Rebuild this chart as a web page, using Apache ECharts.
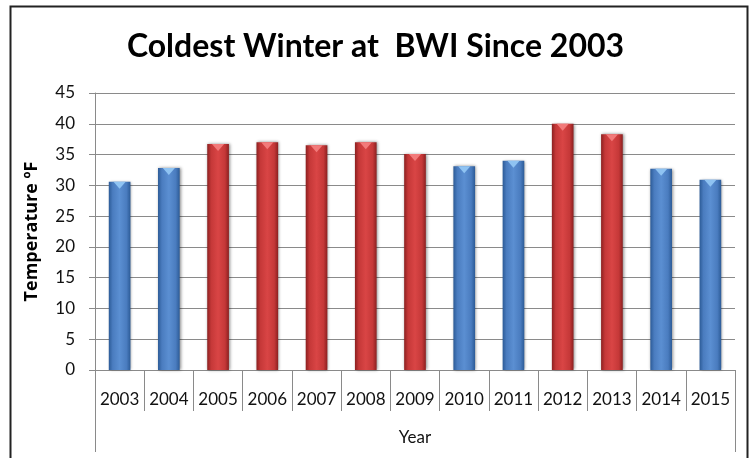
<!DOCTYPE html>
<html>
<head>
<meta charset="utf-8">
<script src="https://cdn.jsdelivr.net/npm/echarts@6/dist/echarts.min.js"></script>
<style>
  html, body { margin: 0; padding: 0; background: #fff; }
  #chart { width: 751px; height: 458px; }
</style>
</head>
<body>
<div id="chart"></div>
<script>
// x轴年份
const years = ['2003', '2004', '2005', '2006', '2007', '2008', '2009', '2010', '2011', '2012', '2013', '2014', '2015']
// 最低温度 (°F)
const temps = [30.6, 32.8, 36.7, 37.0, 36.5, 37.0, 35.1, 33.1, 34.0, 40.0, 38.3, 32.7, 30.9]
// 柱子颜色分组
const groups = ['cold', 'cold', 'warm', 'warm', 'warm', 'warm', 'warm', 'cold', 'cold', 'warm', 'warm', 'cold', 'cold']
const yTicks = [0, 5, 10, 15, 20, 25, 30, 35, 40, 45]

const font = 'Lato, "Open Sans", sans-serif'

function barFill(edge, mid, center) {
  return new echarts.graphic.LinearGradient(0, 0, 1, 0, [
    { offset: 0, color: edge },
    { offset: 0.18, color: mid },
    { offset: 0.5, color: center },
    { offset: 0.82, color: mid },
    { offset: 1, color: edge }
  ])
}
const fills = {
  cold: barFill('#2c5b97', '#4a7cbf', '#5b8fd2'),
  warm: barFill('#8c2020', '#c53838', '#d94545')
}
const caps = { cold: '#8fc3f2', warm: '#f27a7a' }

const chart = echarts.init(document.getElementById('chart'))
chart.setOption({
  animation: false,
  backgroundColor: '#fff',
  title: {
    text: 'Coldest Winter at  BWI Since 2003',
    left: 'center',
    top: 26,
    textStyle: { fontFamily: font, fontSize: 32, fontWeight: 'bold', color: '#000' }
  },
  graphic: [{
    type: 'rect',
    left: 8,
    top: 4,
    shape: { width: 737, height: 453 },
    style: { fill: 'none', stroke: '#222', lineWidth: 2 },
    silent: true
  }],
  grid: { left: 95, right: 16, top: 93, bottom: 88 },
  xAxis: [{
    type: 'category',
    data: years,
    axisLine: { lineStyle: { color: '#8a8a8a' } },
    axisTick: { show: true, interval: 0, alignWithLabel: false, length: 41, lineStyle: { color: '#8a8a8a' } },
    axisLabel: { interval: 0, margin: 21, fontFamily: font, fontSize: 17, color: '#111' }
  }, {
    type: 'category',
    position: 'bottom',
    offset: 41,
    data: ['Year'],
    axisLine: { show: false },
    axisTick: { show: true, alignWithLabel: false, length: 41, lineStyle: { color: '#8a8a8a' } },
    axisLabel: { margin: 18, fontFamily: font, fontSize: 17, color: '#111' }
  }],
  yAxis: {
    type: 'value',
    min: 0,
    max: yTicks[yTicks.length - 1],
    interval: 5,
    name: 'Temperature ºF',
    nameLocation: 'middle',
    nameGap: 54,
    nameTextStyle: { fontFamily: '"Open Sans", sans-serif', fontSize: 18, fontWeight: 'bold', color: '#000' },
    axisLine: { show: true, lineStyle: { color: '#8a8a8a' } },
    axisTick: { show: true, length: 6, lineStyle: { color: '#8a8a8a' } },
    axisLabel: { margin: 20, fontFamily: font, fontSize: 17, color: '#111' },
    splitLine: { lineStyle: { color: '#8a8a8a', width: 1 } }
  },
  series: [{
    type: 'bar',
    data: temps.map((v, i) => ({ value: v, itemStyle: { color: fills[groups[i]] } })),
    barWidth: '44%',
    itemStyle: {
      shadowBlur: 3,
      shadowColor: 'rgba(0,0,0,0.45)',
      shadowOffsetX: 1,
      shadowOffsetY: 0
    },
    z: 2
  }, {
    type: 'pictorialBar',
    data: temps.map((v, i) => ({ value: v, itemStyle: { color: caps[groups[i]] } })),
    symbol: 'path://M0,0 L20,0 L10,6 Z',
    symbolSize: ['36%', 7],
    symbolPosition: 'end',
    symbolOffset: [0, 0],
    z: 3,
    silent: true
  }]
})
</script>
</body>
</html>
